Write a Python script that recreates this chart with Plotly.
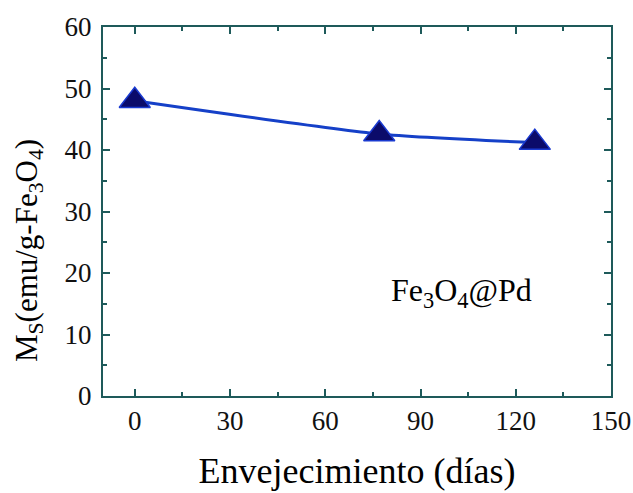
import plotly.graph_objects as go

dias = [0, 77, 126]
ms = [48.0, 42.6, 41.2]
x_ticks = [0, 30, 60, 90, 120, 150]
y_ticks = [0, 10, 20, 30, 40, 50, 60]

axis_color = "#1e5a5a"
font_fam = "Liberation Serif, Times New Roman, serif"

fig = go.Figure()
fig.add_trace(go.Scatter(
    x=dias, y=ms, mode="lines",
    line=dict(color="#1540c8", width=3, shape="spline", smoothing=0.6),
    showlegend=False, hoverinfo="skip"))
fig.add_trace(go.Scatter(
    x=dias, y=ms, mode="markers",
    marker=dict(symbol="triangle-up", size=27, color="#0b0b6a",
                line=dict(color="#1a3ad0", width=1.5)),
    showlegend=False))

fig.add_annotation(x=103, y=16.8, xref="x", yref="y", showarrow=False,
                   text="Fe<sub>3</sub>O<sub>4</sub>@Pd",
                   font=dict(family=font_fam, size=32, color="black"))

# y-axis title placed as rotated annotation to match reference position
fig.add_annotation(x=-0.146, y=0.395, xref="paper", yref="paper", showarrow=False,
                   textangle=-90, xanchor="center", yanchor="middle",
                   text="M<sub>S</sub>(emu/g-Fe<sub>3</sub>O<sub>4</sub>)",
                   font=dict(family=font_fam, size=31, color="black"))

common = dict(showgrid=False, zeroline=False, showline=True, linecolor=axis_color,
              linewidth=2, mirror="ticks", ticks="inside", tickcolor=axis_color,
              ticklen=7, tickwidth=2, automargin=False,
              tickfont=dict(family=font_fam, size=27, color="#111"),
              minor=dict(ticks="inside", ticklen=4, tickcolor=axis_color, tickwidth=2))

fig.update_xaxes(range=[-10, 150], tickvals=x_ticks, **common,
                 ticklabelstandoff=0,
                 title=dict(text="Envejecimiento (días)", standoff=22,
                            font=dict(family=font_fam, size=36, color="black")))
fig.update_xaxes(minor_dtick=15, minor_tick0=0)
fig.update_yaxes(range=[0, 60], tickvals=y_ticks, **common,
                 ticklabelstandoff=4)
fig.update_yaxes(minor_dtick=5, minor_tick0=0)

fig.update_layout(width=633, height=493, margin=dict(l=103, r=22, t=27, b=97),
                  plot_bgcolor="white", paper_bgcolor="white")

fig.write_html("out.html", config={"displayModeBar": False},
               post_script="document.body.style.margin='0px';document.body.style.overflow='hidden';")
